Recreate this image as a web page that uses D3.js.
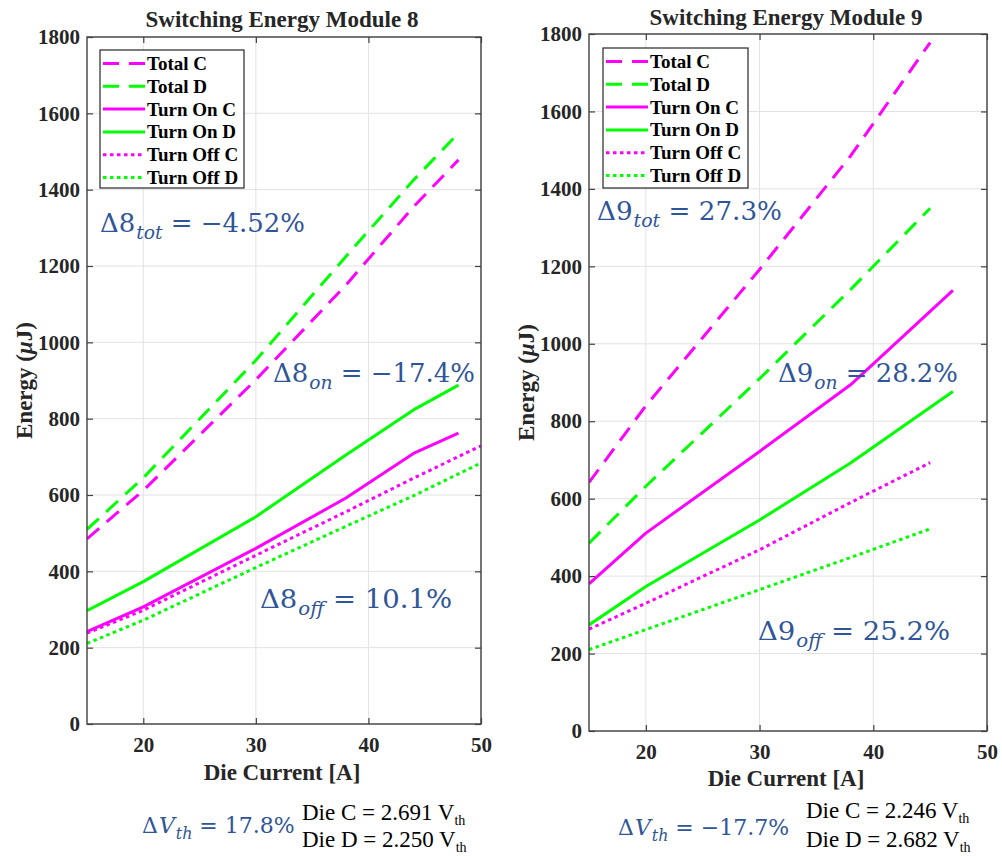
<!DOCTYPE html>
<html>
<head>
<meta charset="utf-8">
<script src="https://cdn.jsdelivr.net/npm/d3@7"></script>
<style>
  html, body { margin: 0; padding: 0; background: #fff; }
  svg { display: block; }
</style>
</head>
<body>
<svg id="chart" width="1002" height="856"></svg>
<script>
// ---- data: die current [A] vs switching energy [uJ] ----
const seriesNames = ["Total C", "Total D", "Turn On C", "Turn On D", "Turn Off C", "Turn Off D"];
const xTickValues = [20, 30, 40, 50];
const yTickValues = [0, 200, 400, 600, 800, 1000, 1200, 1400, 1600, 1800];

// Module 8
const m8TotalC   = [[15, 485], [20, 612], [30, 902], [38, 1150], [44, 1355], [48, 1478]];
const m8TotalD   = [[15, 510], [20, 645], [30, 953], [38, 1225], [44, 1425], [48, 1548]];
const m8TurnOnC  = [[15, 242], [20, 307], [30, 460], [38, 592], [44, 709], [48, 762]];
const m8TurnOnD  = [[15, 297], [20, 373], [30, 543], [38, 705], [44, 823], [48, 888]];
const m8TurnOffC = [[15, 238], [20, 298], [30, 442], [38, 556], [44, 644], [50, 729]];
const m8TurnOffD = [[15, 211], [20, 272], [30, 410], [38, 518], [44, 598], [50, 684]];

// Module 9
const m9TotalC   = [[15, 642], [20, 840], [30, 1192], [38, 1485], [45, 1778]];
const m9TotalD   = [[15, 485], [20, 632], [30, 910], [38, 1140], [45, 1350]];
const m9TurnOnC  = [[15, 380], [20, 511], [30, 722], [38, 894], [47, 1138]];
const m9TurnOnD  = [[15, 274], [20, 373], [30, 545], [38, 692], [47, 877]];
const m9TurnOffC = [[15, 263], [20, 330], [30, 468], [38, 590], [45, 693]];
const m9TurnOffD = [[15, 210], [20, 262], [30, 365], [38, 448], [45, 522]];

const m8Titles = ["Switching Energy Module 8"];
const m9Titles = ["Switching Energy Module 9"];

// ---- styling ----
const MAGENTA = "#ff00ff", GREEN = "#00ff00", NOTE = "#2f5597";
const styles = [
  { color: MAGENTA, dash: "16,10" },
  { color: GREEN,   dash: "16,10" },
  { color: MAGENTA, dash: null },
  { color: GREEN,   dash: null },
  { color: MAGENTA, dash: "3.5,3.5" },
  { color: GREEN,   dash: "3.5,3.5" }
];
const SERIF = "'Liberation Serif', 'Times New Roman', serif";
const MATH = "'DejaVu Serif', serif";

const svg = d3.select("#chart");

function drawPanel(cfg) {
  const { box, title, series, legendBox, titleY, xLabelY, yLabelX } = cfg;
  const w = box.right - box.left, h = box.bottom - box.top;
  const x = d3.scaleLinear().domain([15, 50]).range([0, w]);
  const y = d3.scaleLinear().domain([0, 1800]).range([h, 0]);

  const g = svg.append("g").attr("transform", `translate(${box.left},${box.top})`);
  const clipId = "clip" + box.left;
  g.append("clipPath").attr("id", clipId).append("rect").attr("width", w).attr("height", h);

  // grid
  const grid = g.append("g").attr("stroke", "#e2e2e2").attr("stroke-width", 1);
  grid.selectAll(".gx").data(xTickValues).join("line")
    .attr("x1", d => x(d)).attr("x2", d => x(d)).attr("y1", 0).attr("y2", h);
  grid.selectAll(".gy").data(yTickValues).join("line")
    .attr("y1", d => y(d)).attr("y2", d => y(d)).attr("x1", 0).attr("x2", w);

  // axes with inward ticks on all four sides
  const tickLen = 6;
  const fmt = d3.format("d");
  const styleAxis = sel => {
    sel.select(".domain").remove();
    sel.selectAll(".tick line").attr("stroke", "#404040").attr("stroke-width", 1.2);
    sel.selectAll("text").attr("font-family", SERIF).attr("font-weight", "bold")
      .attr("font-size", 21).attr("fill", "#262626");
  };
  g.append("g").attr("transform", `translate(0,${h})`)
    .call(d3.axisBottom(x).tickValues(xTickValues).tickFormat(fmt).tickSize(-tickLen).tickPadding(13).tickSizeOuter(0))
    .call(styleAxis);
  g.append("g")
    .call(d3.axisTop(x).tickValues(xTickValues).tickSize(-tickLen).tickFormat("").tickSizeOuter(0))
    .call(styleAxis);
  g.append("g")
    .call(d3.axisLeft(y).tickValues(yTickValues).tickFormat(fmt).tickSize(-tickLen).tickPadding(7).tickSizeOuter(0))
    .call(styleAxis);
  g.append("g").attr("transform", `translate(${w},0)`)
    .call(d3.axisRight(y).tickValues(yTickValues).tickSize(-tickLen).tickFormat("").tickSizeOuter(0))
    .call(styleAxis);

  // data lines
  const line = d3.line().x(d => x(d[0])).y(d => y(d[1]));
  const lines = g.append("g").attr("clip-path", `url(#${clipId})`);
  series.forEach((s, i) => {
    lines.append("path").datum(s)
      .attr("d", line)
      .attr("fill", "none")
      .attr("stroke", styles[i].color)
      .attr("stroke-width", 3)
      .attr("stroke-dasharray", styles[i].dash)
      .attr("stroke-linecap", "butt")
      .attr("stroke-linejoin", "round");
  });

  // axes box
  g.append("rect").attr("width", w).attr("height", h)
    .attr("fill", "none").attr("stroke", "#404040").attr("stroke-width", 1.4);

  // title
  svg.append("text").attr("x", (box.left + box.right) / 2 - 2).attr("y", titleY)
    .attr("text-anchor", "middle").attr("font-family", SERIF).attr("font-weight", "bold")
    .attr("font-size", 23).attr("fill", "#262626").text(title);

  // axis labels
  svg.append("text").attr("x", (box.left + box.right) / 2 - 2).attr("y", xLabelY)
    .attr("text-anchor", "middle").attr("font-family", SERIF).attr("font-weight", "bold")
    .attr("font-size", 23).attr("fill", "#262626").text("Die Current [A]");
  const yl = svg.append("text")
    .attr("transform", `translate(${yLabelX},${(box.top + box.bottom) / 2}) rotate(-90)`)
    .attr("text-anchor", "middle").attr("dominant-baseline", "central")
    .attr("font-family", SERIF).attr("font-weight", "bold")
    .attr("font-size", 23).attr("fill", "#262626");
  yl.append("tspan").text("Energy (");
  yl.append("tspan").attr("font-style", "italic").text("\u03bc");
  yl.append("tspan").text("J)");

  // legend
  const lg = svg.append("g").attr("transform", `translate(${legendBox.x},${legendBox.y})`);
  lg.append("rect").attr("width", legendBox.w).attr("height", legendBox.h)
    .attr("fill", "#fff").attr("stroke", "#262626").attr("stroke-width", 1.2);
  seriesNames.forEach((name, i) => {
    const cy = 13.5 + i * 22.8;
    lg.append("line").attr("x1", 3).attr("x2", 45).attr("y1", cy).attr("y2", cy)
      .attr("stroke", styles[i].color).attr("stroke-width", 3)
      .attr("stroke-dasharray", styles[i].dash);
    lg.append("text").attr("x", 47).attr("y", cy).attr("dominant-baseline", "central")
      .attr("font-family", SERIF).attr("font-weight", "bold").attr("font-size", 19)
      .attr("fill", "#000").text(name);
  });
}

// math-style annotation: parts are [text, kind] where kind is "n", "i" (italic) or "sub";
// span (optional) fixes the overall width of the expression
function note(x, y, parts, size, span) {
  const t = svg.append("text").attr("x", x).attr("y", y)
    .attr("font-family", MATH).attr("font-size", size).attr("fill", NOTE);
  if (span) t.attr("textLength", span).attr("lengthAdjust", "spacingAndGlyphs");
  let shift = 0;
  const drop = Math.round(size * 0.27);
  parts.forEach(([s, kind]) => {
    const sp = t.append("tspan").text(s);
    if (kind === "sub") {
      sp.attr("font-style", "italic").attr("font-size", size * 0.72)
        .attr("dy", drop - shift).attr("dx", 1);
      shift = drop;
    } else {
      sp.attr("dy", -shift);
      shift = 0;
      if (kind === "i") sp.attr("font-style", "italic").attr("dx", 1);
    }
  });
}

function dieText(x, y, label) {
  const t = svg.append("text").attr("x", x).attr("y", y)
    .attr("font-family", SERIF).attr("font-size", 23).attr("fill", "#000");
  t.append("tspan").text(label + " V");
  t.append("tspan").attr("font-size", 14).attr("dy", 5).text("th");
}

drawPanel({
  box: { left: 87, top: 37, right: 481, bottom: 724 },
  title: m8Titles[0],
  series: [m8TotalC, m8TotalD, m8TurnOnC, m8TurnOnD, m8TurnOffC, m8TurnOffD],
  legendBox: { x: 100, y: 50, w: 144, h: 138 },
  titleY: 27, xLabelY: 780, yLabelX: 24
});
drawPanel({
  box: { left: 589, top: 34, right: 987, bottom: 731 },
  title: m9Titles[0],
  series: [m9TotalC, m9TotalD, m9TurnOnC, m9TurnOnD, m9TurnOffC, m9TurnOffD],
  legendBox: { x: 603, y: 48, w: 145, h: 140 },
  titleY: 25, xLabelY: 786, yLabelX: 526
});

// module 8 notes
note(100, 232, [["\u03948", "n"], ["tot", "sub"], [" = \u22124.52%", "n"]], 26, 205);
note(273, 382, [["\u03948", "n"], ["on", "sub"], [" = \u221217.4%", "n"]], 26, 202);
note(260, 608, [["\u03948", "n"], ["off", "sub"], [" = 10.1%", "n"]], 26, 192);
note(142, 833, [["\u0394", "n"], ["V", "i"], ["th", "sub"], [" = 17.8%", "n"]], 22);
dieText(302, 820, "Die C = 2.691");
dieText(302, 847, "Die D = 2.250");

// module 9 notes
note(597, 220, [["\u03949", "n"], ["tot", "sub"], [" = 27.3%", "n"]], 26, 185);
note(778, 382, [["\u03949", "n"], ["on", "sub"], [" = 28.2%", "n"]], 26, 180);
note(758, 640, [["\u03949", "n"], ["off", "sub"], [" = 25.2%", "n"]], 26, 192);
note(618, 835, [["\u0394", "n"], ["V", "i"], ["th", "sub"], [" = \u221217.7%", "n"]], 22);
dieText(806, 818, "Die C = 2.246");
dieText(806, 847, "Die D = 2.682");
</script>
</body>
</html>
